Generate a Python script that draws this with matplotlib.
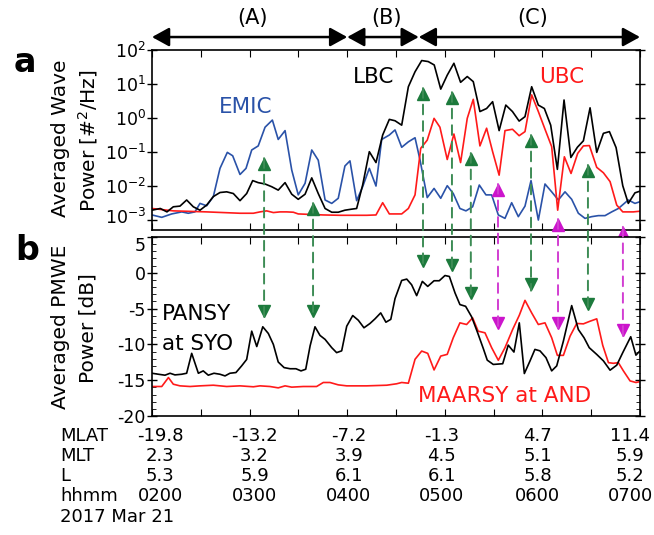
import matplotlib
matplotlib.use("Agg")
import numpy as np
import matplotlib.pyplot as plt
from matplotlib.patches import ConnectionPatch
from matplotlib.transforms import offset_copy, blended_transform_factory, ScaledTranslation

plt.rcParams["axes.unicode_minus"] = False

# time in minutes after 0200 UT, 2017 Mar 21
emic_t = [0, 6.0, 12.1, 18.3, 22.3, 26.4, 29.5, 33.6, 37.7, 41.8, 46.3, 49.6, 54.1, 57.8, 61.3, 65.3, 69.5, 74.0, 77.6, 81.8,
          85.9, 89.9, 94.1, 98.2, 102.2, 106.4, 110.5, 114.5, 118.6, 121.7, 125.8, 129.5, 133.6, 137.7, 141.2, 145.9, 149.4, 153.5,
          157.6, 161.7, 164.8, 169.2, 173.4, 177.5, 181.5, 185.2, 189.3, 193.0, 197.1, 201.2, 205.3, 208.8, 212.9, 217.0, 221.1,
          225.2, 229.3, 233.0, 237.5, 241.6, 245.7, 249.8, 253.9, 258.0, 262.1, 266.2, 270.3, 274.4, 278.5, 282.6, 286.7, 292.8,
          296.9, 300]
emic_log = [-2.85, -2.92, -2.82, -2.76, -2.80, -2.76, -2.51, -2.58, -2.31, -1.48, -1.01, -1.11, -1.66, -1.48, -0.94, -0.82,
            -0.27, -0.06, -0.63, -0.37, -1.53, -2.26, -1.92, -0.94, -1.24, -2.41, -2.51, -2.36, -1.41, -1.26, -2.43, -2.02,
            -1.48, -2.0, -0.63, -0.5, -0.35, -0.86, -0.70, -0.58, -1.24, -2.34, -2.07, -2.36, -1.99, -2.22, -2.66, -2.73,
            -2.61, -1.97, -2.26, -2.26, -2.85, -2.95, -2.49, -2.90, -2.59, -1.84, -3.0, -1.94, -2.17, -2.41, -2.17, -2.39,
            -2.80, -2.95, -2.90, -2.87, -2.87, -2.76, -2.66, -2.41, -2.51, -2.46]

lbc_t = [0, 5.1, 9.2, 13.1, 17.2, 21.3, 25.4, 29.5, 33.6, 37.7, 41.8, 45.9, 50.0, 54.1, 58.2, 61.9, 65.3, 69.5, 73.6, 77.6,
         81.8, 85.9, 89.9, 94.1, 98.2, 102.2, 106.4, 110.5, 114.5, 118.6, 122.7, 125.8, 129.5, 133.6, 137.7, 141.8, 145.9,
         149.4, 153.5, 157.6, 161.7, 165.8, 169.8, 173.5, 177.5, 181.5, 185.6, 189.7, 193.8, 197.5, 201.6, 205.7, 209.4,
         213.4, 217.5, 221.6, 225.7, 229.3, 233.4, 237.5, 241.2, 245.1, 249.2, 253.3, 257.5, 261.5, 265.2, 269.3, 273.4,
         277.5, 281.2, 285.3, 289.4, 292.8, 296.9, 300]
lbc_log = [-2.71, -2.66, -2.76, -2.61, -2.59, -2.41, -2.61, -2.71, -2.56, -2.31, -2.19, -2.17, -2.22, -2.43, -2.22, -1.84,
           -1.90, -1.94, -2.02, -2.12, -1.90, -2.24, -2.39, -2.24, -1.76, -2.22, -2.66, -2.77, -2.77, -2.71, -2.68, -2.66,
           -1.97, -0.99, -1.31, -0.50, -0.04, -0.08, -0.21, 0.92, 1.36, 1.69, 1.66, 1.56, 0.85, 1.26, 1.61, 1.05, 1.22,
           1.07, 0.19, 0.28, 0.48, -0.37, 0.38, 0.19, -0.09, 0.04, 0.92, 0.38, 0.28, -0.21, -1.51, 0.53, -1.16, -0.86,
           -0.67, 0.30, -1.01, -0.45, -0.40, -0.87, -1.99, -2.51, -2.20, -2.15]

ubc_t = [0, 13.1, 33.6, 54.1, 62.3, 66.4, 70.5, 74.6, 78.7, 82.8, 86.9, 89.9, 95.1, 105.3, 115.6, 132.0, 137.7, 141.8,
         145.9, 149.8, 153.5, 157.6, 161.7, 165.2, 169.2, 173.4, 177.0, 181.5, 185.6, 189.7, 193.8, 197.5, 201.6, 205.7,
         209.4, 213.4, 217.0, 221.6, 225.7, 229.3, 233.4, 237.5, 241.6, 245.7, 249.4, 253.5, 257.6, 261.7, 265.2, 268.9,
         273.4, 277.5, 281.6, 285.7, 289.4, 295.9, 300]
ubc_log = [-2.66, -2.73, -2.76, -2.80, -2.80, -2.76, -2.73, -2.78, -2.76, -2.76, -2.77, -2.82, -2.83, -2.85, -2.86, -2.86,
           -2.85, -2.49, -2.82, -2.82, -2.82, -2.66, -2.26, -0.89, -0.65, -0.01, -0.27, -1.22, -0.47, -1.31, -0.01, 0.55,
           -0.82, -0.30, -0.99, -1.68, -0.37, -0.33, -0.52, -0.40, 0.68, 0.19, -0.33, -0.84, -2.71, -1.14, -1.63, -1.04,
           -0.82, -0.81, -1.45, -1.61, -1.87, -2.56, -2.76, -2.76, -2.74]

pansy_t = [0, 4.0, 8.0, 11.1, 14.1, 18.2, 21.3, 24.4, 28.5, 31.5, 34.6, 38.1, 41.8, 44.9, 47.9, 51.6, 55.1, 58.2, 61.3,
           64.4, 68.1, 71.5, 74.6, 77.6, 81.2, 84.9, 88.5, 91.6, 94.5, 97.2, 100.2, 103.3, 106.4, 110.5, 113.5, 116.6,
           119.7, 123.4, 126.8, 130.3, 134.0, 137.1, 140.6, 143.8, 146.8, 149.4, 153.5, 156.6, 159.6, 162.7, 166.2, 169.5,
           173.4, 176.6, 180.1, 182.8, 186.3, 189.3, 192.8, 196.5, 200.2, 203.7, 206.1, 209.8, 215.6, 219.0, 222.5, 225.8,
           228.9, 232.4, 235.4, 238.5, 242.2, 245.7, 248.8, 252.9, 258.0, 262.1, 265.6, 268.8, 273.4, 277.5, 281.6, 285.7,
           289.4, 294.3, 297.5, 300]
pansy_db = [-14.03, -14.17, -14.3, -14.03, -14.26, -14.17, -14.03, -11.25, -14.03, -13.7, -14.3, -14.03, -14.17, -14.4,
            -14.03, -13.93, -13.0, -12.1, -8.15, -10.3, -7.54, -8.47, -10.0, -12.46, -13.24, -13.4, -13.4, -13.7, -13.47,
            -10.2, -7.54, -8.75, -9.3, -10.46, -11.15, -10.9, -7.46, -5.97, -6.62, -7.68, -7.08, -6.43, -5.6, -6.9, -6.5,
            -3.6, -1.07, -0.88, -1.67, -3.19, -1.2, -1.9, -1.11, -1.11, -0.38, -0.51, -2.82, -4.44, -4.68, -6.15, -8.38,
            -10.6, -12.2, -12.8, -12.7, -10.1, -11.07, -6.99, -14.07, -12.3, -10.7, -10.9, -11.85, -13.7, -13.0, -9.54,
            -4.58, -7.92, -9.07, -10.46, -11.4, -12.3, -13.6, -12.9, -11.15, -8.93, -11.5, -10.9]

maarsy_t = [0, 6.0, 10.1, 13.1, 17.2, 23.4, 29.5, 37.7, 45.9, 54.1, 62.3, 66.4, 72.5, 77.6, 81.8, 85.9, 93.0, 101.2,
            105.3, 109.4, 114.5, 119.7, 132.0, 144.3, 150.4, 153.5, 157.6, 161.7, 165.8, 169.5, 173.4, 177.5, 181.5, 185.2,
            189.3, 193.4, 197.1, 200.5, 204.7, 208.8, 212.9, 217.0, 221.7, 225.8, 229.3, 233.4, 237.5, 241.6, 245.7, 249.2,
            252.9, 257.0, 261.1, 265.2, 269.3, 273.4, 277.1, 280.6, 283.6, 286.7, 289.8, 293.9, 297.5, 300]
maarsy_db = [-15.88, -15.88, -14.63, -15.56, -15.79, -15.88, -15.79, -15.7, -15.88, -15.79, -15.92, -15.79, -15.88, -16.07,
             -15.79, -15.97, -15.88, -15.88, -15.32, -15.32, -15.65, -15.79, -15.79, -15.7, -15.5, -15.32, -15.42, -12.08,
             -10.93, -11.25, -13.57, -11.63, -11.39, -9.07, -6.99, -7.22, -6.29, -8.15, -8.38, -10.46, -12.22, -10.46,
             -7.92, -5.93, -3.85, -5.6, -7.22, -6.99, -9.07, -11.53, -11.53, -8.85, -7.08, -7.13, -6.76, -6.43, -10.14,
             -12.55, -12.64, -12.55, -13.7, -15.1, -15.32, -15.2]

# dashed arrows: time, tip in panel a (log10 power), tip in panel b (dB)
green_t = [68.9, 99.0, 166.6, 184.4, 196.0, 233.0, 268.0]
green_top = [-1.18, -2.5, 0.88, 0.76, -1.03, -0.5, -1.38]
green_bot = [-6.25, -6.25, 0.83, 0.28, -3.75, -2.5, -5.3]
magenta_t = [212.7, 249.6, 289.5]
magenta_top = [-1.94, -2.97, -3.2]
magenta_bot = [-7.9, -7.9, -8.9]

# periods (A), (B), (C)
period_names = ["(A)", "(B)", "(C)"]
period_edges = [0, 120, 164, 300]

# bottom label table
row_names = ["MLAT", "MLT", "L", "hhmm"]
mlat = ["-19.8", "-13.2", "-7.2", "-1.3", "4.7", "11.4"]
mlt = ["2.3", "3.2", "3.9", "4.5", "5.1", "5.9"]
lshell = ["5.3", "5.9", "6.1", "6.1", "5.8", "5.2"]
hhmm = ["0200", "0300", "0400", "0500", "0600", "0700"]
date_label = "2017 Mar 21"

W, H = 654, 535
fig = plt.figure(figsize=(W / 100, H / 100), dpi=100)
ax1 = fig.add_axes([152 / W, 1 - 230 / H, 488 / W, 180 / H])
ax2 = fig.add_axes([152 / W, 1 - 416 / H, 488 / W, 179 / H])

blue = "#2a52a8"
red = "#ff1a1a"
green = "#1c7a3c"
green_line = "#3d8c55"
magenta = "#cc14cc"
magenta_line = "#d23ed2"

lw = 1.2
ax1.plot(emic_t, 10 ** np.array(emic_log), color=blue, lw=lw)
ax1.plot(ubc_t, 10 ** np.array(ubc_log), color=red, lw=lw)
ax1.plot(lbc_t, 10 ** np.array(lbc_log), color="black", lw=lw)
ax1.set_yscale("log")
ax1.set_ylim(5.1e-4, 1e2)
ax1.set_yticks([1e-3, 1e-2, 1e-1, 1e0, 1e1, 1e2])
ax1.set_yticklabels(["10$^{-3}$", "10$^{-2}$", "10$^{-1}$", "10$^{0}$", "10$^{1}$", "10$^{2}$"])

ax2.plot(maarsy_t, maarsy_db, color=red, lw=lw)
ax2.plot(pansy_t, pansy_db, color="black", lw=lw)
ax2.set_ylim(-20, 5)
ax2.set_yticks([-20, -15, -10, -5, 0, 5])
ax2.set_yticks(np.arange(-20, 6, 1), minor=True)

for ax in (ax1, ax2):
    ax.set_xlim(0, 300)
    ax.set_xticks(np.arange(0, 301, 30))
    ax.set_xticklabels([])
    ax.tick_params(axis="x", which="both", direction="in", top=True, bottom=True, length=5)
    ax.tick_params(axis="y", which="major", direction="inout", left=True, right=True, length=7, width=1, labelsize=12.5, pad=1)
    ax.tick_params(axis="y", which="minor", direction="in", left=True, right=True, length=3)
    for s in ax.spines.values():
        s.set_linewidth(1.2)

# keep the edge labels of the two panels apart
ax2.get_yticklabels()[-1].set_va("top")
lab3 = ax1.get_yticklabels()[0]
lab3.set_transform(lab3.get_transform() + ScaledTranslation(0, 4 / 100, fig.dpi_scale_trans))

# curve labels
ax1.text(57.8, 10 ** 0.32, "EMIC", color=blue, fontsize=15.5, ha="center", va="center")
ax1.text(136.5, 10 ** 1.21, "LBC", color="black", fontsize=15.5, ha="center", va="center")
ax1.text(252, 10 ** 1.21, "UBC", color=red, fontsize=15.5, ha="center", va="center")
ax2.text(6.1, -5.7, "PANSY", color="black", fontsize=15.5, ha="left", va="center")
ax2.text(6.1, -10.0, "at SYO", color="black", fontsize=15.5, ha="left", va="center")
ax2.text(217, -17.2, "MAARSY at AND", color=red, fontsize=15.5, ha="center", va="center")

# dashed double arrows linking the two panels
ms = 9
up1 = offset_copy(ax1.transData, fig=fig, y=-ms / 2, units="points")
dn2 = offset_copy(ax2.transData, fig=fig, y=ms / 2, units="points")
for tt, tops, bots, c, cl in [(green_t, green_top, green_bot, green, green_line),
                              (magenta_t, magenta_top, magenta_bot, magenta, magenta_line)]:
    for t, a, b in zip(tt, tops, bots):
        con = ConnectionPatch(xyA=(t, 10 ** a), coordsA=ax1.transData, xyB=(t, b), coordsB=ax2.transData,
                              color=cl, lw=1.4, linestyle=(0, (5, 3.5)))
        fig.add_artist(con)
        ax1.plot([t], [10 ** a], marker="^", ms=ms, color=c, mec=c, transform=up1, clip_on=False, zorder=5)
        ax2.plot([t], [b], marker="v", ms=ms, color=c, mec=c, transform=dn2, clip_on=False, zorder=5)

# period arrows above panel a
tr = blended_transform_factory(ax1.transData, ax1.transAxes)
for name, t0, t1 in zip(period_names, period_edges[:-1], period_edges[1:]):
    ax1.annotate("", xy=(t1, 1.072), xytext=(t0, 1.072), xycoords=tr, textcoords=tr,
                 arrowprops=dict(arrowstyle="<|-|>,head_length=0.4,head_width=0.22", color="black",
                                 lw=1.8, mutation_scale=26, shrinkA=0, shrinkB=0), annotation_clip=False)
    ax1.text((t0 + t1) / 2 + 2, 1.178, name, transform=tr, fontsize=15, ha="center", va="center")

# panel letters and y labels
fig.text(25 / W, 1 - 63 / H, "a", fontsize=24, fontweight="bold", ha="center", va="center")
fig.text(27 / W, 1 - 250 / H, "b", fontsize=24, fontweight="bold", ha="center", va="center")
fig.text(60 / W, 1 - 138 / H, "Averaged Wave", fontsize=14.5, rotation=90, ha="center", va="center")
fig.text(88 / W, 1 - 141 / H, "Power [#$^2$/Hz]", fontsize=14.5, rotation=90, ha="center", va="center")
fig.text(60 / W, 1 - 327 / H, "Averaged PMWE", fontsize=14.5, rotation=90, ha="center", va="center")
fig.text(88 / W, 1 - 328 / H, "Power [dB]", fontsize=14.5, rotation=90, ha="center", va="center")

# label table under panel b
col_x = [5, 63, 121, 178, 237, 294]
row_y = [436, 456, 476, 496]
tr_lab = blended_transform_factory(ax2.transData, fig.transFigure)
for name, y, vals in zip(row_names, row_y, [mlat, mlt, lshell, hhmm]):
    fig.text(60 / W, 1 - y / H, name, fontsize=13, ha="left", va="center")
    for x, v in zip(col_x, vals):
        fig.text(x, 1 - y / H, v, transform=tr_lab, fontsize=13, ha="center", va="center")
fig.text(60 / W, 1 - 517 / H, date_label, fontsize=13, ha="left", va="center")

fig.savefig("out.png", dpi=100)
